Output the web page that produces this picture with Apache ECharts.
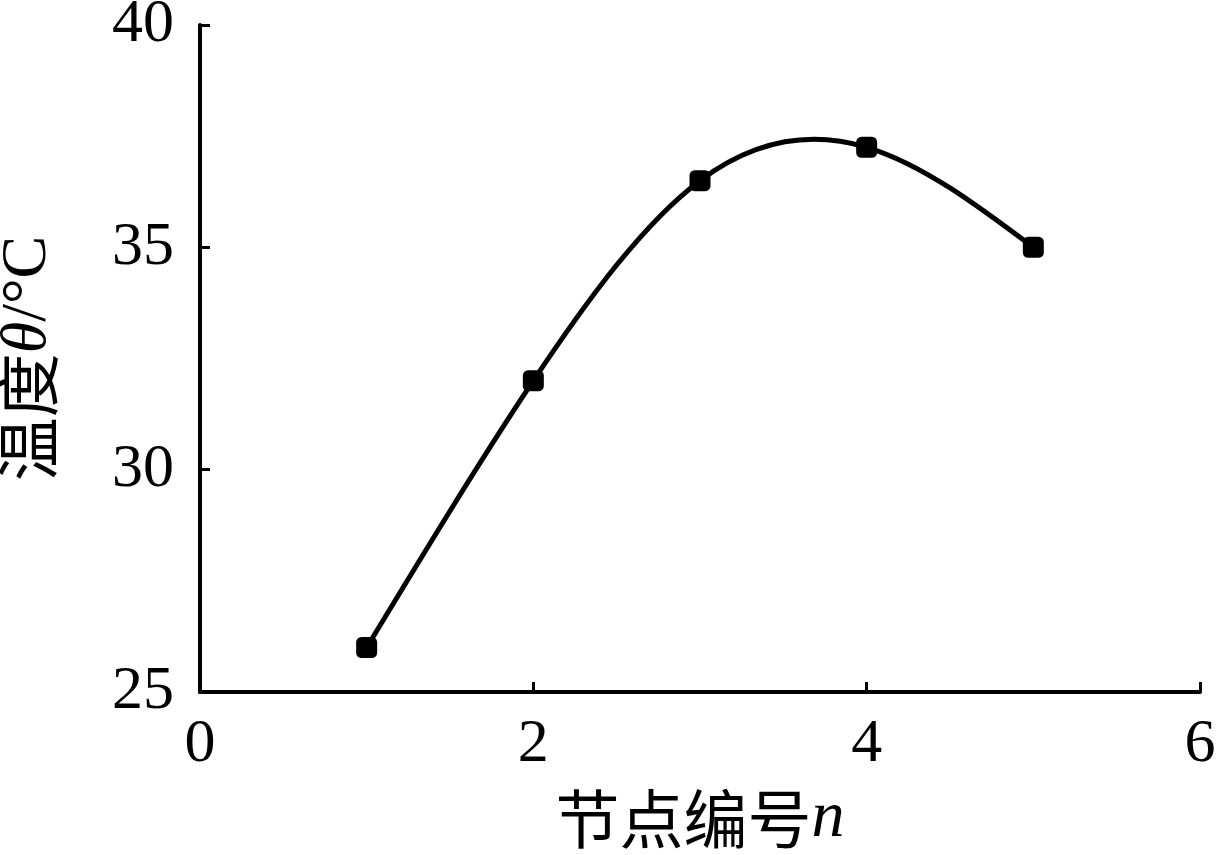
<!DOCTYPE html>
<html>
<head>
<meta charset="utf-8">
<script src="https://cdn.jsdelivr.net/npm/echarts@6/dist/echarts.min.js"></script>
<style>
html,body{margin:0;padding:0;background:#fff;}
#chart{width:1218px;height:855px;}
</style>
</head>
<body>
<div id="chart"></div>
<script>
// Data
const nodes = [1, 2, 3, 4, 5];
const temps = [26.0, 32.0, 36.5, 37.25, 35.0];
const xTicks = [0, 2, 4, 6];
const yTicks = [25, 30, 35, 40];
const xName = '节点编号';
const yName = '温度';

// Natural cubic spline through the data (curve shape only; drawn via axis coords)
function splineSecondDerivs(xs, ys) {
  const n = xs.length;
  const M = new Array(n).fill(0);
  if (n < 3) return M;
  const a = [], b = [], c = [], d = [];
  for (let i = 1; i < n - 1; i++) {
    const h0 = xs[i] - xs[i - 1], h1 = xs[i + 1] - xs[i];
    a.push(h0); b.push(2 * (h0 + h1)); c.push(h1);
    d.push(6 * ((ys[i + 1] - ys[i]) / h1 - (ys[i] - ys[i - 1]) / h0));
  }
  const m = b.length;
  for (let i = 1; i < m; i++) {
    const w = a[i] / b[i - 1];
    b[i] -= w * c[i - 1];
    d[i] -= w * d[i - 1];
  }
  const sol = new Array(m);
  sol[m - 1] = d[m - 1] / b[m - 1];
  for (let i = m - 2; i >= 0; i--) sol[i] = (d[i] - c[i] * sol[i + 1]) / b[i];
  for (let i = 0; i < m; i++) M[i + 1] = sol[i];
  return M;
}
const M = splineSecondDerivs(nodes, temps);
function segmentControls(i) {
  const h = nodes[i + 1] - nodes[i];
  const s = (temps[i + 1] - temps[i]) / h;
  const d0 = s - h * (2 * M[i] + M[i + 1]) / 6;
  const d1 = s + h * (M[i] + 2 * M[i + 1]) / 6;
  return [
    [nodes[i] + h / 3, temps[i] + h * d0 / 3],
    [nodes[i + 1] - h / 3, temps[i + 1] - h * d1 / 3]
  ];
}

const chart = echarts.init(document.getElementById('chart'), null, {renderer: 'canvas'});
const serif = '"Liberation Serif", "DejaVu Serif", serif';
const cjk = '"Noto Sans CJK SC", sans-serif';

const axisCommon = {
  axisLine: {show: true, lineStyle: {color: '#000', width: 4}},
  axisTick: {show: true, inside: true, length: 10, lineStyle: {color: '#000', width: 3}},
  splitLine: {show: false},
  axisLabel: {color: '#000', fontFamily: serif, fontSize: 62}
};

chart.setOption({
  backgroundColor: '#fff',
  animation: false,
  grid: {left: 200, right: 18, top: 25, bottom: 163, containLabel: false, outerBoundsMode: 'none'},
  xAxis: Object.assign({}, axisCommon, {
    type: 'value', min: xTicks[0], max: xTicks[xTicks.length - 1], interval: 2,
    axisLabel: Object.assign({}, axisCommon.axisLabel, {margin: 22}),
    name: xName + '{i|n}',
    nameLocation: 'middle', nameGap: 94,
    nameTextStyle: {color: '#000', fontFamily: cjk, fontSize: 64,
      rich: {i: {fontFamily: serif, fontStyle: 'italic', fontSize: 66, color: '#000'}}}
  }),
  yAxis: Object.assign({}, axisCommon, {
    type: 'value', min: yTicks[0], max: yTicks[yTicks.length - 1], interval: 5,
    axisLabel: Object.assign({}, axisCommon.axisLabel, {margin: 26}),
    name: yName + '{i|θ}{s|/°C}',
    nameLocation: 'middle', nameGap: 140,
    nameTextStyle: {color: '#000', fontFamily: cjk, fontSize: 64,
      rich: {
        i: {fontFamily: serif, fontStyle: 'italic', fontSize: 64, color: '#000'},
        s: {fontFamily: serif, fontSize: 64, color: '#000'}
      }}
  }),
  series: [{
    type: 'custom',
    data: nodes.map((n, i) => [n, temps[i]]),
    encode: {x: 0, y: 1},
    clip: false,
    z: 2,
    renderItem: function (params, api) {
      const i = params.dataIndex;
      if (i >= nodes.length - 1) return null;
      const p0 = api.coord([nodes[i], temps[i]]);
      const p1 = api.coord([nodes[i + 1], temps[i + 1]]);
      const cps = segmentControls(i);
      const c0 = api.coord(cps[0]);
      const c1 = api.coord(cps[1]);
      return {
        type: 'bezierCurve',
        shape: {x1: p0[0], y1: p0[1], x2: p1[0], y2: p1[1],
                cpx1: c0[0], cpy1: c0[1], cpx2: c1[0], cpy2: c1[1]},
        style: {stroke: '#000', lineWidth: 5, fill: null}
      };
    }
  }, {
    type: 'scatter',
    data: nodes.map((n, i) => [n, temps[i]]),
    symbol: 'roundRect',
    symbolSize: 21,
    z: 3,
    itemStyle: {color: '#000', opacity: 1}
  }]
});
</script>
</body>
</html>
